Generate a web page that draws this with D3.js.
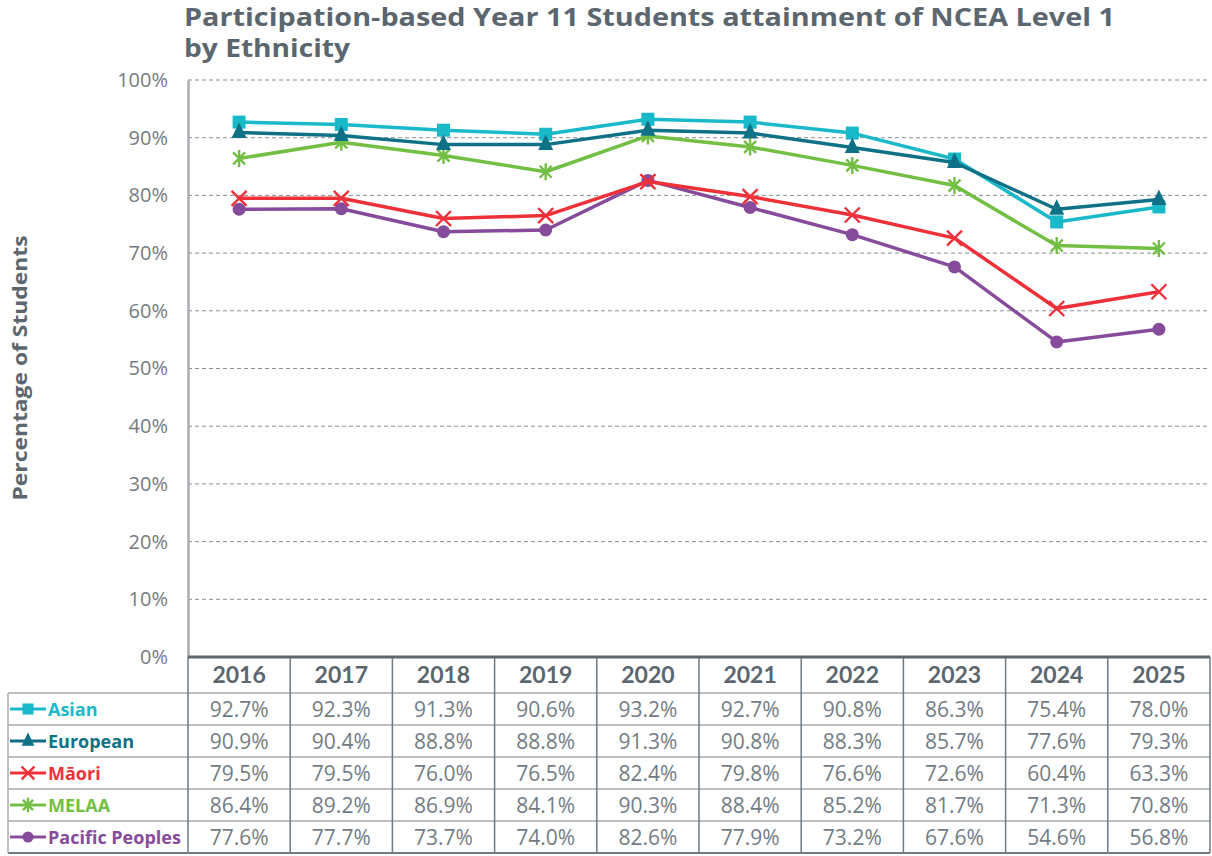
<!DOCTYPE html>
<html><head><meta charset="utf-8">
<script src="https://cdn.jsdelivr.net/npm/d3@7"></script>
<style>
html,body{margin:0;padding:0;background:#fff;}
svg{display:block;font-family:"Open Sans",Lato,sans-serif;}
</style></head>
<body><svg id="chart" width="1212" height="856"></svg>
<script>
const years = ["2016","2017","2018","2019","2020","2021","2022","2023","2024","2025"];
const seriesNames = ["Asian","European","Māori","MELAA","Pacific Peoples"];
const asian    = [92.7,92.3,91.3,90.6,93.2,92.7,90.8,86.3,75.4,78.0];
const european = [90.9,90.4,88.8,88.8,91.3,90.8,88.3,85.7,77.6,79.3];
const maori    = [79.5,79.5,76.0,76.5,82.4,79.8,76.6,72.6,60.4,63.3];
const melaa    = [86.4,89.2,86.9,84.1,90.3,88.4,85.2,81.7,71.3,70.8];
const pacific  = [77.6,77.7,73.7,74.0,82.6,77.9,73.2,67.6,54.6,56.8];
const yTicks = [0,10,20,30,40,50,60,70,80,90,100];
const colors = ["#1ab9c9","#0e7186","#ee3139","#72bf44","#864b9a"];
const markers = ["square","triangle","x","star","circle"];
const seriesValues = [asian, european, maori, melaa, pacific];

const svg = d3.select("#chart");
const pLeft = 188, pRight = 1210, pTop = 80, pBottom = 657;
const x = d3.scaleBand().domain(years).range([pLeft, pRight]).padding(0);
const y = d3.scaleLinear().domain([0,100]).range([pBottom, pTop]);
const textCol = "#5c666e", tickCol = "#6c757d";

// title
svg.append("text").attr("x",184).attr("y",26).attr("font-size",25.5).attr("font-weight",700).attr("fill",textCol)
  .attr("textLength",931).attr("lengthAdjust","spacingAndGlyphs")
  .text("Participation-based Year 11 Students attainment of NCEA Level 1");
svg.append("text").attr("x",184).attr("y",57).attr("font-size",25.5).attr("font-weight",700).attr("fill",textCol)
  .attr("textLength",166).attr("lengthAdjust","spacingAndGlyphs")
  .text("by Ethnicity");

// y axis label
svg.append("text").attr("transform","translate(27,368) rotate(-90)").attr("text-anchor","middle")
  .attr("font-size",20).attr("font-weight",700).attr("fill",textCol)
  .attr("textLength",265).attr("lengthAdjust","spacingAndGlyphs").text("Percentage of Students");

// grid
svg.append("g").selectAll("line").data(yTicks.filter(d=>d>0)).join("line")
  .attr("x1",pLeft).attr("x2",pRight).attr("y1",d=>y(d)).attr("y2",d=>y(d))
  .attr("stroke","#8a8f94").attr("stroke-width",1).attr("stroke-dasharray","4,3");

// y axis
const yAxis = d3.axisLeft(y).tickValues(yTicks).tickFormat(d=>d+"%").tickSize(0).tickPadding(20);
const yg = svg.append("g").attr("transform",`translate(${pLeft},0)`).call(yAxis);
yg.select(".domain").attr("stroke","#a9adb1").attr("stroke-width",2.5);
yg.selectAll("text").attr("font-size",20).attr("fill","#737c84").attr("font-family","'Open Sans',sans-serif").attr("font-weight",400);

// lines
const line = d3.line().x((d,i)=>x(years[i])+x.bandwidth()/2).y(d=>y(d));
function drawMarker(g, type, color, s){
  s = s || 1;
  if(type==="square") g.append("rect").attr("x",-6.5*s).attr("y",-6.5*s).attr("width",13*s).attr("height",13*s).attr("fill",color);
  else if(type==="triangle") g.append("path").attr("d",`M0,${-10*s}L${7.5*s},${5.5*s}L${-7.5*s},${5.5*s}Z`).attr("fill",color);
  else if(type==="circle") g.append("circle").attr("r",6.5*s).attr("fill",color);
  else if(type==="x") g.append("path").attr("d",`M${-7.5*s},${-7.5*s}L${7.5*s},${7.5*s}M${-7.5*s},${7.5*s}L${7.5*s},${-7.5*s}`).attr("stroke",color).attr("stroke-width",2.4);
  else if(type==="star") g.append("path").attr("d",`M${-6*s},${-6*s}L${6*s},${6*s}M${-6*s},${6*s}L${6*s},${-6*s}M0,${-8.5*s}L0,${8.5*s}`).attr("stroke",color).attr("stroke-width",2.4);
}
const order = [4,2,3,0,1];
order.forEach(si=>{
  const vals = seriesValues[si];
  svg.append("path").datum(vals).attr("d",line).attr("fill","none").attr("stroke",colors[si]).attr("stroke-width",3.5).attr("stroke-linejoin","round");
  vals.forEach((v,i)=>{
    const g = svg.append("g").attr("transform",`translate(${x(years[i])+x.bandwidth()/2},${y(v)})`);
    drawMarker(g, markers[si], colors[si]);
  });
});

// data table
const headTop = pBottom, headBot = 693, rowH = 32;
const tbl = svg.append("g");
const borderCol = "#6f7a82", lightBorder = "#a9adb1";
tbl.selectAll("text.yr").data(years).join("text").attr("class","yr")
  .attr("x",d=>x(d)+x.bandwidth()/2).attr("y",(headTop+headBot)/2+8).attr("text-anchor","middle")
  .attr("font-family","Lato,sans-serif")
  .attr("font-size",23).attr("font-weight",700).attr("fill",textCol).text(d=>d);
seriesNames.forEach((name,si)=>{
  const ry = headBot + si*rowH;
  tbl.selectAll(null).data(seriesValues[si]).join("text")
    .attr("x",(d,i)=>x(years[i])+x.bandwidth()/2).attr("y",ry+rowH/2+7.5).attr("text-anchor","middle")
    .attr("font-size",21).attr("font-weight",400).attr("fill","#737c84").text(d=>d.toFixed(1)+"%");
  tbl.append("line").attr("x1",10).attr("x2",46).attr("y1",ry+rowH/2).attr("y2",ry+rowH/2).attr("stroke",colors[si]).attr("stroke-width",3);
  const g = tbl.append("g").attr("transform",`translate(28,${ry+rowH/2})`);
  drawMarker(g, markers[si], colors[si], 0.85);
  tbl.append("text").attr("x",48).attr("y",ry+rowH/2+7).attr("font-size",18).attr("font-weight",700)
    .attr("fill",colors[si]).text(name);
});
const hLines = d3.range(seriesNames.length+1).map(i=>headBot+i*rowH);
tbl.selectAll("line.h").data(hLines).join("line").attr("class","h")
  .attr("x1",8).attr("x2",pRight).attr("y1",d=>d).attr("y2",d=>d)
  .attr("stroke",(d,i)=> i===seriesNames.length ? borderCol : lightBorder).attr("stroke-width",(d,i)=> i===seriesNames.length?2:1.5);
const vLines = years.map(d=>x(d)).concat([pRight]);
tbl.selectAll("line.v").data(vLines).join("line").attr("class","v")
  .attr("x1",d=>d).attr("x2",d=>d).attr("y1",headTop).attr("y2",headBot+5*rowH)
  .attr("stroke",borderCol).attr("stroke-width",1.5);
tbl.append("line").attr("x1",8).attr("x2",8).attr("y1",headBot).attr("y2",headBot+5*rowH).attr("stroke",lightBorder).attr("stroke-width",1.5);
tbl.append("line").attr("x1",pLeft).attr("x2",pRight).attr("y1",pBottom).attr("y2",pBottom).attr("stroke","#5c666e").attr("stroke-width",3);
</script></body></html>
